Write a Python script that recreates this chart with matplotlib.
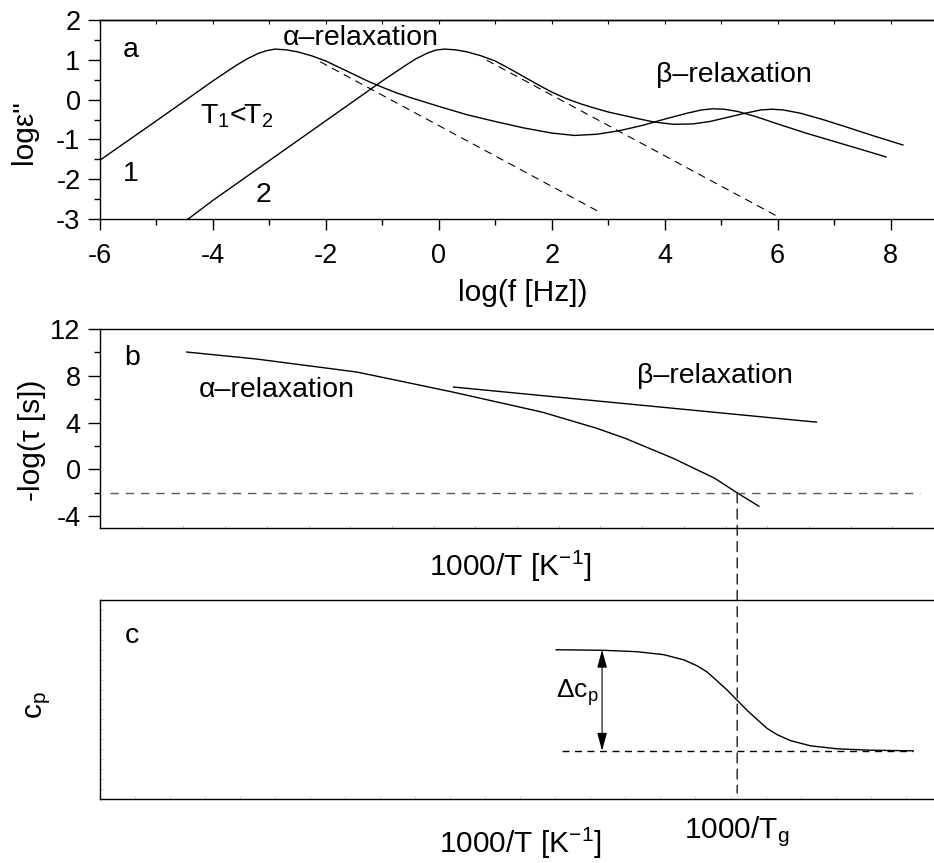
import matplotlib
matplotlib.use("Agg")
import matplotlib.pyplot as plt
from matplotlib.patches import ConnectionPatch
from matplotlib.ticker import MultipleLocator

plt.rcParams["font.family"] = ["Liberation Sans", "DejaVu Sans"]
plt.rcParams["mathtext.fontset"] = "custom"
plt.rcParams["mathtext.rm"] = "Liberation Sans"
plt.rcParams["mathtext.it"] = "Liberation Sans:italic"
plt.rcParams["mathtext.default"] = "rm"
plt.rcParams["axes.unicode_minus"] = False

# (a) dielectric loss spectra, log eps'' vs log f, two temperatures
spec1_logf = [-6.0, -5.0, -4.0, -3.6, -3.4, -3.2, -3.05, -2.9, -2.7, -2.5, -2.25, -2.0,
              -1.75, -1.5, -1.25, -1.0, -0.75, -0.5, 0.0, 0.5, 1.0, 1.5, 2.0, 2.4, 2.8, 3.2,
              3.6, 4.0, 4.4, 4.65, 4.85, 5.05, 5.3, 5.6, 6.0, 6.5, 7.0, 7.5, 7.92]
spec1_loge = [-1.52, -0.53, 0.47, 0.85, 1.02, 1.16, 1.23, 1.27, 1.25, 1.20, 1.10, 0.97,
              0.80, 0.63, 0.46, 0.31, 0.17, 0.05, -0.17, -0.38, -0.55, -0.71, -0.84, -0.90, -0.87, -0.78,
              -0.65, -0.49, -0.34, -0.26, -0.23, -0.24, -0.30, -0.42, -0.61, -0.84, -1.05, -1.26, -1.44]

spec2_logf = [-4.44, -4.0, -3.0, -2.0, -1.5, -1.0, -0.6, -0.4, -0.2, -0.05, 0.1, 0.3, 0.5,
              0.75, 1.0, 1.25, 1.5, 1.75, 2.0, 2.25, 2.5, 2.75, 3.0, 3.5, 3.8, 4.15, 4.5,
              4.8, 5.1, 5.43, 5.7, 5.9, 6.1, 6.4, 6.8, 7.2, 7.7, 8.22]
spec2_loge = [-3.0, -2.53, -1.53, -0.53, -0.03, 0.47, 0.85, 1.03, 1.17, 1.245, 1.27, 1.25, 1.20,
              1.10, 0.97, 0.78, 0.58, 0.38, 0.19, 0.03, -0.10, -0.21, -0.31, -0.47, -0.56, -0.62, -0.61,
              -0.55, -0.45, -0.34, -0.26, -0.24, -0.26, -0.34, -0.50, -0.68, -0.91, -1.14]

# alpha-process alone (high-frequency flank)
alpha1_logf = [-2.1, 2.84]
alpha1_loge = [0.95, -2.82]
alpha2_logf = [0.85, 5.98]
alpha2_loge = [0.99, -2.92]

# (b) relaxation map, -log tau vs 1000/T (arbitrary units)
tau_alpha_x = [1.04, 1.88, 3.08, 3.60, 4.23, 5.30, 5.95, 6.29, 6.87, 7.37, 7.64, 7.90]
tau_alpha_y = [10.03, 9.43, 8.32, 7.55, 6.61, 4.90, 3.53, 2.68, 0.96, -0.75, -2.0, -3.14]
tau_beta_x = [4.24, 8.59]
tau_beta_y = [7.04, 4.04]
tau_glass = -2.0
tau_glass_span = [0.12, 9.83]
inv_tg = 7.64

# (c) heat capacity step at the glass transition
cp_x = [5.47, 6.04, 6.44, 6.76, 7.00, 7.16, 7.28, 7.40, 7.52, 7.64, 7.76, 7.88,
        8.00, 8.12, 8.28, 8.52, 8.84, 9.24, 9.75]
cp_y = [7.50, 7.47, 7.40, 7.25, 6.99, 6.69, 6.38, 5.93, 5.47, 4.96, 4.45, 3.99,
        3.54, 3.23, 2.93, 2.67, 2.52, 2.45, 2.42]
cp_liquid = 7.50
cp_glass = 2.42
cp_glass_span = [5.54, 9.75]
delta_cp_x = 6.02

TICK_FS = 19.5
LABEL_FS = 21.5
NOTE_FS = 20.5

fig = plt.figure(figsize=(9.34, 8.63), dpi=100)

ax_a = fig.add_axes([0.1071, 0.7462, 0.8929, 0.2306])
ax_b = fig.add_axes([0.1071, 0.3882, 0.8929, 0.2306])
ax_c = fig.add_axes([0.1071, 0.0742, 0.8929, 0.2306])

for ax in (ax_a, ax_b, ax_c):
    ax.spines["right"].set_visible(False)
    for side in ("left", "bottom", "top"):
        ax.spines[side].set_linewidth(1.0)

# --- panel a ---
ax_a.plot(spec1_logf, spec1_loge, color="k", lw=1.0)
ax_a.plot(spec2_logf, spec2_loge, color="k", lw=1.0)
ax_a.plot(alpha1_logf, alpha1_loge, color="k", lw=0.8, ls=(0, (7, 5)))
ax_a.plot(alpha2_logf, alpha2_loge, color="k", lw=0.8, ls=(0, (7, 5)))
ax_a.set_xlim(-6, 8.77)
ax_a.set_ylim(-3, 2)
ax_a.set_xticks(range(-6, 9, 2))
ax_a.xaxis.set_minor_locator(MultipleLocator(1))
ax_a.set_yticks(range(-3, 3))
ax_a.yaxis.set_minor_locator(MultipleLocator(0.5))
ax_a.tick_params(axis="x", which="major", direction="out", length=8, width=1,
                 labelsize=TICK_FS, pad=9)
ax_a.tick_params(axis="x", which="minor", direction="out", length=4, width=1)
ax_a.tick_params(axis="y", which="major", direction="out", length=9, width=1,
                 labelsize=TICK_FS, pad=5)
ax_a.tick_params(axis="y", which="minor", direction="out", length=4, width=1)
top_a = ax_a.secondary_xaxis("top")
top_a.set_xticks(range(-6, 9))
top_a.tick_params(direction="in", length=3, width=0.8, labeltop=False)
top_a.spines["top"].set_linewidth(1.0)

ax_a.text(-5.59, 1.07, "a", fontsize=NOTE_FS, va="baseline")
ax_a.text(-2.76, 1.37, "α–relaxation", fontsize=NOTE_FS, va="baseline")
ax_a.text(3.85, 0.44, "β–relaxation", fontsize=NOTE_FS, va="baseline")
ax_a.text(-4.23, -0.59, "T$_1$<T$_2$", fontsize=NOTE_FS, va="baseline")
ax_a.text(-5.59, -2.05, "1", fontsize=NOTE_FS, va="baseline")
ax_a.text(-3.25, -2.57, "2", fontsize=NOTE_FS, va="baseline")
ax_a.text(1.49, -5.06, "log(f [Hz])", fontsize=LABEL_FS, ha="center",
          va="baseline", clip_on=False)
fig.text(0.0257, 0.847, 'logε"', fontsize=LABEL_FS, rotation=90,
         ha="center", va="center")

# --- panel b ---
ax_b.plot(tau_alpha_x, tau_alpha_y, color="k", lw=1.0)
ax_b.plot(tau_beta_x, tau_beta_y, color="k", lw=1.0)
ax_b.plot(tau_glass_span, [tau_glass, tau_glass], color="0.35", lw=1.0,
          ls=(0, (6, 5)))
ax_b.set_xlim(0, 10)
ax_b.set_ylim(-5, 12)
ax_b.set_yticks([-4, 0, 4, 8, 12])
ax_b.yaxis.set_minor_locator(MultipleLocator(2))
ax_b.tick_params(axis="y", which="major", direction="out", length=9, width=1,
                 labelsize=TICK_FS, pad=5)
ax_b.tick_params(axis="y", which="minor", direction="out", length=4, width=1)
ax_b.xaxis.set_major_locator(MultipleLocator(0.5))
ax_b.tick_params(axis="x", direction="in", length=2, width=0.6, color="0.8",
                 labelbottom=False)

ax_b.text(0.29, 8.92, "b", fontsize=NOTE_FS, va="baseline")
ax_b.text(1.18, 6.18, "α–relaxation", fontsize=NOTE_FS, va="baseline")
ax_b.text(6.44, 7.38, "β–relaxation", fontsize=NOTE_FS, va="baseline")
ax_b.text(4.92, -9.13, "1000/T [K$^{-1}$]", fontsize=LABEL_FS, ha="center",
          va="baseline", clip_on=False)
fig.text(0.0343, 0.4902, "-log(τ [s])", fontsize=LABEL_FS, rotation=90,
         ha="center", va="center")

# --- panel c ---
ax_c.plot(cp_x, cp_y, color="k", lw=1.0)
ax_c.plot(cp_glass_span, [cp_glass, cp_glass], color="k", lw=1.0,
          ls=(0, (5, 4)))
ax_c.annotate("", xy=(delta_cp_x, cp_liquid), xytext=(delta_cp_x, cp_glass),
              arrowprops=dict(arrowstyle="<|-|>,head_length=1.1,head_width=0.3",
                              mutation_scale=10, color="k", lw=0.8,
                              shrinkA=0, shrinkB=0))
ax_c.set_xlim(0, 10)
ax_c.set_ylim(0, 10)
ax_c.xaxis.set_major_locator(MultipleLocator(0.42))
ax_c.yaxis.set_major_locator(MultipleLocator(0.5))
ax_c.tick_params(direction="in", length=2, width=0.6, color="0.8",
                 labelbottom=False, labelleft=False)

ax_c.text(0.30, 7.84, "c", fontsize=NOTE_FS, va="baseline")
ax_c.text(5.47, 5.1, "Δc$_p$", fontsize=19, va="baseline")
ax_c.text(inv_tg, -1.96, "1000/T$_g$", fontsize=LABEL_FS, ha="center",
          va="baseline", clip_on=False)
ax_c.text(5.04, -2.71, "1000/T [K$^{-1}$]", fontsize=LABEL_FS, ha="center",
          va="baseline", clip_on=False)
fig.text(0.041, 0.183, "c$_p$", fontsize=LABEL_FS, rotation=90,
         ha="center", va="center")

# glass transition marker running from (b) down through (c)
tg_line = ConnectionPatch(xyA=(inv_tg, tau_glass), coordsA=ax_b.transData,
                          xyB=(inv_tg, 0.3), coordsB=ax_c.transData,
                          color="k", lw=0.9, ls=(0, (8, 5)))
fig.add_artist(tg_line)

fig.savefig("out.png", dpi=100)
